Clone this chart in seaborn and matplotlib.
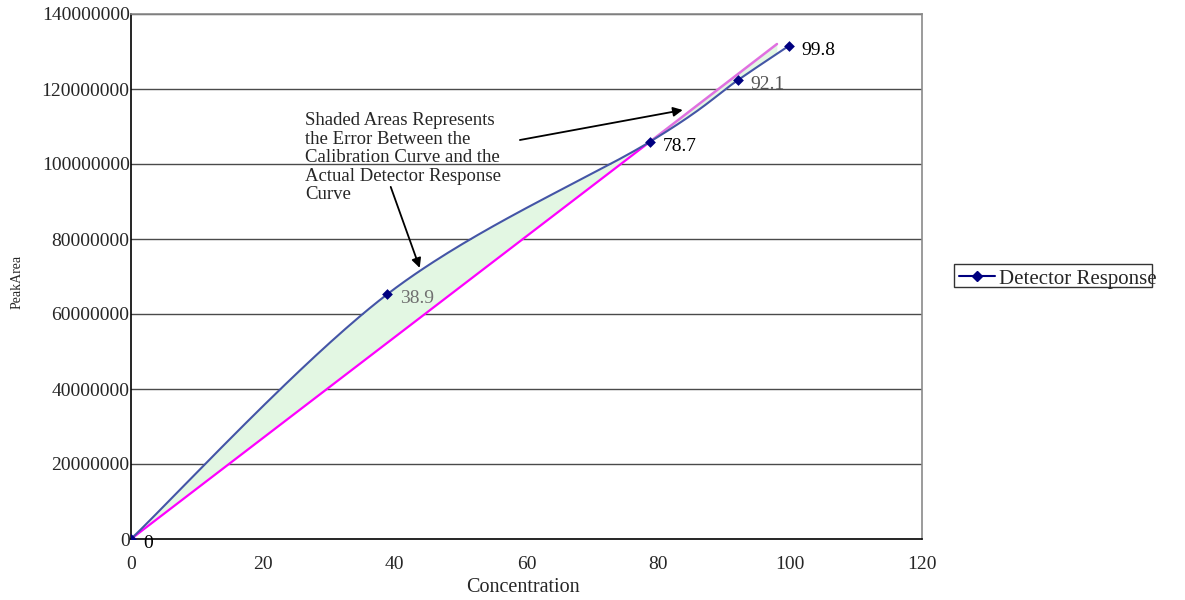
import numpy as np
import pandas as pd
import matplotlib
matplotlib.use("Agg")
import matplotlib.pyplot as plt
from matplotlib.patches import Rectangle
from matplotlib.lines import Line2D
import seaborn as sns

# Measured detector response
concentration = [0.0, 38.9, 78.7, 92.1, 99.8]
peak_area = [0.0, 65.3e6, 105.9e6, 122.4e6, 131.5e6]
point_labels = ["0", "38.9", "78.7", "92.1", "99.8"]
label_colors = ["black", "#707070", "black", "#555555", "black"]

# Linear calibration curve through the origin
calib_x = [0.0, 78.7, 98.0]
calib_y = [0.0, 105.9e6, 132.0e6]

x_ticks = [0, 20, 40, 60, 80, 100, 120]
y_ticks = [0, 20e6, 40e6, 60e6, 80e6, 100e6, 120e6, 140e6]

sns.set_theme(style="white")
plt.rcParams["font.family"] = ["Liberation Serif", "DejaVu Serif"]

fig = plt.figure(figsize=(11.85, 6.0), dpi=100)
ax = fig.add_axes([131 / 1185, 61 / 600, 791 / 1185, 525 / 600])
ax.set_xlim(0, 120)
ax.set_ylim(0, 140e6)


def smooth_curve(xs, ys, n=60):
    """Bezier smoothing (Catmull-Rom style) done in normalized axis units."""
    px = np.asarray(xs) / 120.0
    py = np.asarray(ys) / 140e6
    pts = np.column_stack([px, py])
    out = []
    for i in range(len(pts) - 1):
        p0 = pts[i - 1] if i > 0 else pts[i]
        p1 = pts[i]
        p2 = pts[i + 1]
        p3 = pts[i + 2] if i + 2 < len(pts) else pts[i + 1]
        c1 = p1 + (p2 - p0) / 6.0
        c2 = p2 - (p3 - p1) / 6.0
        t = np.linspace(0, 1, n)[:, None]
        seg = ((1 - t) ** 3) * p1 + 3 * ((1 - t) ** 2) * t * c1 \
            + 3 * (1 - t) * t ** 2 * c2 + t ** 3 * p2
        out.append(seg if i == 0 else seg[1:])
    arr = np.vstack(out)
    return arr[:, 0] * 120.0, arr[:, 1] * 140e6


sx, sy = smooth_curve(concentration, peak_area)

# Shaded error between the response curve and the calibration line
mask = sx <= calib_x[-1]
cal_on_curve = np.interp(sx[mask], calib_x, calib_y)
ax.fill_between(sx[mask], sy[mask], cal_on_curve, color="#e3f7e3", lw=0, zorder=1)

# Gridlines
for yv in y_ticks[1:]:
    ax.axhline(yv, color="#4a4a4a", lw=1.0, zorder=0.5)

# Calibration line
calib_df = pd.DataFrame({"x": calib_x[:2], "y": calib_y[:2]})
sns.lineplot(data=calib_df, x="x", y="y", color="#ff00ff", lw=1.6, ax=ax,
             sort=False, zorder=3)
ax.plot(calib_x[1:], calib_y[1:], color="#e070e0", lw=1.8, zorder=3)

# Detector response curve
ax.plot(sx, sy, color="#4455a6", lw=1.5, zorder=4)
resp_df = pd.DataFrame({"x": concentration, "y": peak_area})
sns.scatterplot(data=resp_df, x="x", y="y", marker="D", s=30, color="#000080",
                edgecolor="#000080", linewidth=0, ax=ax, zorder=5)

for xv, yv, lab, col in zip(concentration, peak_area, point_labels, label_colors):
    ax.annotate(lab, (xv, yv), xytext=(9, -3), textcoords="offset points",
                ha="left", va="center", fontsize=14, color=col, zorder=6)

# Annotation text and arrows
ax.text(26.4, 113.8e6,
        "Shaded Areas Represents\nthe Error Between the\nCalibration Curve and the\n"
        "Actual Detector Response\nCurve",
        ha="left", va="top", fontsize=13.5, linespacing=1.12, zorder=7)
ax.annotate("", xy=(83.7, 114.4e6), xytext=(59.0, 106.4e6),
            arrowprops=dict(arrowstyle="-|>", color="black", lw=1.3,
                            mutation_scale=14, shrinkA=0, shrinkB=0), zorder=7)
ax.annotate("", xy=(43.8, 72.3e6), xytext=(39.4, 93.9e6),
            arrowprops=dict(arrowstyle="-|>", color="black", lw=1.3,
                            mutation_scale=14, shrinkA=0, shrinkB=0), zorder=7)

# Axes styling
ax.set_xticks(x_ticks)
ax.set_yticks(y_ticks)
ax.set_xticklabels([str(v) for v in x_ticks], fontsize=14)
ax.set_yticklabels([f"{int(v)}" for v in y_ticks], fontsize=14)
ax.tick_params(axis="x", direction="out", length=5, width=1, color="black", pad=7)
ax.tick_params(axis="y", direction="out", length=0, pad=1)
ax.set_xlabel("")
ax.set_ylabel("")
for side in ("left", "bottom"):
    ax.spines[side].set_color("black")
    ax.spines[side].set_linewidth(1.2)
for side in ("top", "right"):
    ax.spines[side].set_color("#8a8a8a")
    ax.spines[side].set_linewidth(1.2)

fig.text(523 / 1185, 1 - 587 / 600, "Concentration", ha="center", va="center",
         fontsize=14.5)
fig.text(17 / 1185, 1 - 282 / 600, "PeakArea", ha="center", va="center",
         rotation=90, fontsize=10)

# Legend box
fig.patches.append(Rectangle((954 / 1185, 1 - 287 / 600), 198 / 1185, 23 / 600,
                             transform=fig.transFigure, facecolor="white",
                             edgecolor="#333333", lw=1.0))
fig.lines.append(Line2D([959 / 1185, 995 / 1185], [1 - 276 / 600] * 2,
                        transform=fig.transFigure, color="#000080", lw=1.5))
fig.lines.append(Line2D([977 / 1185], [1 - 276 / 600], transform=fig.transFigure,
                        marker="D", markersize=5.5, color="#000080", lw=0))
fig.text(999 / 1185, 1 - 279 / 600, "Detector Response", ha="left", va="center",
         fontsize=15)

fig.savefig("out.png", dpi=100)
